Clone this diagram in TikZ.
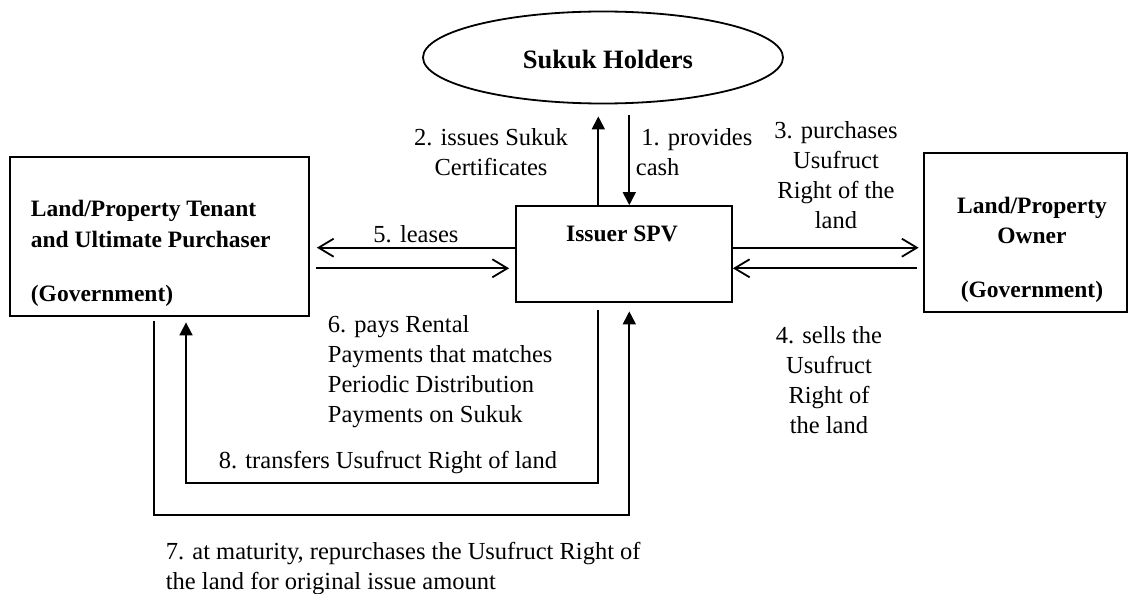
\documentclass[tikz,border=0pt]{standalone}
\usepackage{fontspec}
\setmainfont{Liberation Serif}
\usetikzlibrary{arrows.meta,shapes.geometric}
\begin{document}
\begin{tikzpicture}[x=1pt,y=-1pt, line width=1.8pt,
  lbl/.style={font=\fontsize{24.5}{30}\selectfont, inner sep=0pt},
  blbl/.style={font=\fontsize{23.5}{31}\selectfont\bfseries, inner sep=0pt},
  bx/.style={draw, line width=1.8pt, inner sep=0pt},
  opena/.style={-{Straight Barb[length=15pt,width=18pt,line width=1.8pt]}},
  filla/.style={-{Triangle[length=13pt,width=13pt]}}]
\useasboundingbox (0,0) rectangle (1132,594);
% boxes
\node[bx, minimum width=299pt, minimum height=159pt] (tenant) at (159.5,236.5) {};
\node[bx, minimum width=203pt, minimum height=159pt] (owner) at (1025.5,232.5) {};
\node[bx, minimum width=216pt, minimum height=96pt] (spv) at (624,254) {};
\node[bx, ellipse, minimum width=360pt, minimum height=92pt] (holders) at (603,57.5) {};
% box texts
\node[blbl, font=\fontsize{26.5}{31}\selectfont\bfseries, anchor=base] (holderstxt) at (608,69) {Sukuk Holders};
\node[blbl, anchor=base] (spvtxt) at (622,241) {Issuer SPV};
\node[blbl, anchor=base west] (ten1) at (30,216) {Land/Property Tenant};
\node[blbl, anchor=base west] (ten2) at (30,247) {and Ultimate Purchaser};
\node[blbl, anchor=base west] (ten3) at (30,301) {(Government)};
\node[blbl, anchor=base] (own1) at (1032,213) {Land/Property};
\node[blbl, anchor=base] (own2) at (1032,243) {Owner};
\node[blbl, anchor=base] (own3) at (1032,297) {(Government)};
% coordinates
\coordinate (r1) at (0,247.7);
\coordinate (r2) at (0,268.3);
\coordinate (c2) at (598.3,0);
\coordinate (c1) at (629.3,0);
\coordinate (c7) at (154.3,0);
\coordinate (c8) at (186,0);
\coordinate (y8) at (0,483.3);
\coordinate (y7) at (0,515);
% connectors
\draw[opena, shorten >=7pt] (spv.west|-r1) -- (tenant.east|-r1);
\draw[opena, shorten <=6pt, shorten >=6pt] (tenant.east|-r2) -- (spv.west|-r2);
\draw[opena, shorten >=4.5pt] (spv.east|-r1) -- (owner.west|-r1);
\draw[opena, shorten <=6.5pt] (owner.west|-r2) -- (spv.east|-r2);
\draw[filla, shorten >=12pt] (spv.north-|c2) -- (holders.south-|c2);
\draw[filla, shorten <=11pt] (holders.south-|c1) -- (spv.north-|c1);
\draw[filla, shorten <=4pt, shorten >=8.5pt] (tenant.south-|c7) |- (c1|-y7) -- (spv.south-|c1);
\draw[filla, shorten <=7pt, shorten >=5.5pt] (spv.south-|c2) |- (c8|-y8) -- (tenant.south-|c8);
% labels (base anchor = baseline of last line)
\node[lbl, anchor=base, align=center] (l2) at (491,175) {2. issues Sukuk\\Certificates};
\node[lbl, anchor=base west, align=left] (l1) at (635,175) {\hspace*{5.5pt}1. provides\\cash};
\node[lbl, anchor=base, align=center] (l3) at (836,228) {3. purchases\\Usufruct\\Right of the\\land};
\node[lbl, anchor=base, align=center] (l4) at (829,433) {4. sells the\\Usufruct\\Right of\\the land};
\node[lbl, anchor=base] (l5) at (416,242) {5. leases};
\node[lbl, anchor=base west, align=left] (l6) at (327,422) {6. pays Rental\\Payments that matches\\Periodic Distribution\\Payments on Sukuk};
\node[lbl, anchor=base west] (l8) at (218,468.5) {8. transfers Usufruct Right of land};
\node[lbl, anchor=base west, align=left] (l7) at (165,589.5) {7. at maturity, repurchases the Usufruct Right of\\the land for original issue amount};
\end{tikzpicture}
\end{document}
